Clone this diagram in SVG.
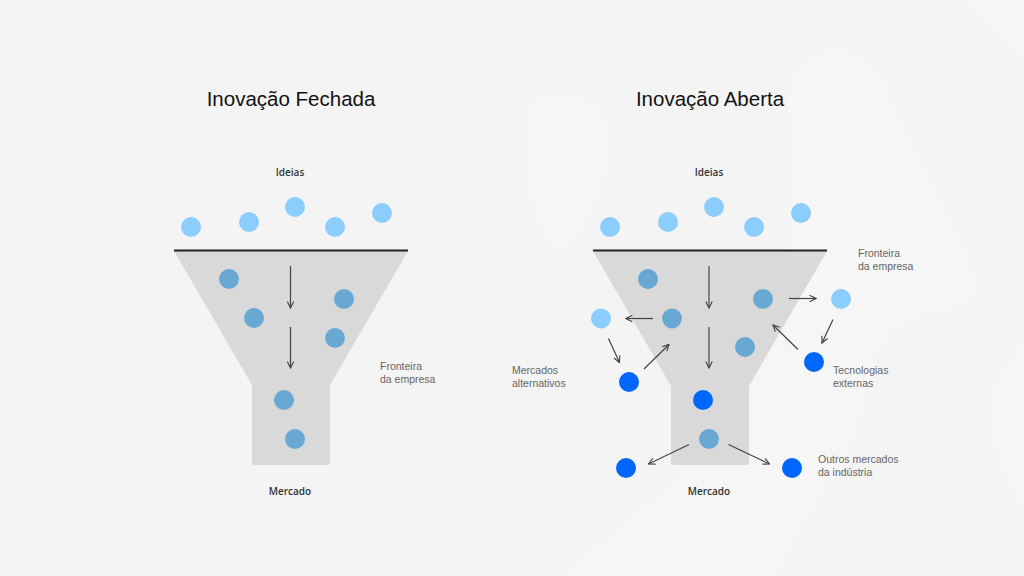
<svg xmlns="http://www.w3.org/2000/svg" width="1024" height="576" viewBox="0 0 1024 576">
<defs>
<style>
.bg{fill:#f4f4f4}
.blob{fill:#f6f6f6}
.funnel{fill:#d9d9d9}
.rim{stroke:#222;stroke-width:2.2}
.idea{fill:#8bcdfc}
.inner{fill:#6aa8d4}
.ext{fill:#0066ff}
.title{font-family:"Liberation Sans",Arial,sans-serif;font-size:20.5px;fill:#111;text-anchor:middle}
.lbl{font-family:"Open Sans","Liberation Sans",Arial,sans-serif;font-size:10px;font-weight:600;fill:#333;text-anchor:middle}
.side{font-family:"Liberation Sans",Arial,sans-serif;font-size:10.5px;fill:#666}
.arr{stroke:#444;stroke-width:1.2;fill:none;marker-end:url(#ah)}
</style>
<marker id="ah" viewBox="0 0 10 10" refX="9" refY="5" markerWidth="8" markerHeight="8" markerUnits="userSpaceOnUse" orient="auto">
<path d="M1,1 L9,5 L1,9" fill="none" stroke="#444" stroke-width="1.4"/>
</marker>
</defs>
<rect class="bg" x="0" y="0" width="1024" height="576"/>
<g id="background">
<path class="blob" d="M960,0 C985,20 1005,45 1024,60 L1024,0 Z"/>
<path class="blob" d="M800,60 C830,40 870,45 885,80 C920,160 960,220 975,270 C985,300 960,310 930,315 C900,320 880,340 875,370 C860,460 800,520 780,576 L560,576 C620,520 700,470 740,400 C780,320 790,250 790,180 C790,120 780,80 800,60 Z"/>
<path class="blob" d="M1024,340 C1000,360 985,390 990,430 C995,470 1010,500 1024,510 Z"/>
<path class="blob" d="M530,100 C560,80 600,90 610,130 C615,180 590,230 560,260 C540,240 525,200 525,160 C525,130 520,110 530,100 Z"/>
</g>

<g id="closed-title"><text class="title" x="291" y="106">Inovação Fechada</text></g>
<g id="open-title"><text class="title" x="710" y="106">Inovação Aberta</text></g>

<g id="closed-funnel">
<path class="funnel" d="M174,251 L408,251 L330,385 L330,463 Q330,465 328,465 L254,465 Q252,465 252,463 L252,385 Z"/>
<line class="rim" x1="174" y1="250.5" x2="408" y2="250.5"/>
</g>
<g id="open-funnel">
<path class="funnel" d="M593,251 L827,251 L749,386 L749,463 Q749,465 747,465 L673,465 Q671,465 671,463 L671,386 Z"/>
<line class="rim" x1="593" y1="250.5" x2="827" y2="250.5"/>
</g>

<g id="closed-labels">
<text class="lbl" x="290" y="176">Ideias</text>
<text class="lbl" x="290" y="495">Mercado</text>
<text class="side" x="380" y="369.5">Fronteira</text>
<text class="side" x="380" y="382.5">da empresa</text>
</g>
<g id="open-labels">
<text class="lbl" x="709" y="176">Ideias</text>
<text class="lbl" x="709" y="495">Mercado</text>
<text class="side" x="858" y="257">Fronteira</text>
<text class="side" x="858" y="270">da empresa</text>
<text class="side" x="512" y="374">Mercados</text>
<text class="side" x="512" y="387">alternativos</text>
<text class="side" x="833" y="374">Tecnologias</text>
<text class="side" x="833" y="387">externas</text>
<text class="side" x="818" y="463">Outros mercados</text>
<text class="side" x="818" y="476">da indústria</text>
</g>

<g id="closed-ideas">
<circle class="idea" cx="191" cy="227" r="10"/>
<circle class="idea" cx="249" cy="222" r="10"/>
<circle class="idea" cx="295" cy="207" r="10"/>
<circle class="idea" cx="335" cy="227" r="10"/>
<circle class="idea" cx="382" cy="213" r="10"/>
</g>
<g id="closed-inner">
<circle class="inner" cx="229" cy="279" r="10"/>
<circle class="inner" cx="344" cy="299" r="10"/>
<circle class="inner" cx="254" cy="318" r="10"/>
<circle class="inner" cx="335" cy="338" r="10"/>
<circle class="inner" cx="284" cy="400" r="10"/>
<circle class="inner" cx="295" cy="439" r="10"/>
</g>

<g id="open-ideas">
<circle class="idea" cx="610" cy="227" r="10"/>
<circle class="idea" cx="668" cy="222" r="10"/>
<circle class="idea" cx="714" cy="207" r="10"/>
<circle class="idea" cx="754" cy="227" r="10"/>
<circle class="idea" cx="801" cy="213" r="10"/>
</g>
<g id="open-inner">
<circle class="inner" cx="648" cy="279" r="10"/>
<circle class="inner" cx="672" cy="318.5" r="10"/>
<circle class="inner" cx="763" cy="299" r="10"/>
<circle class="inner" cx="745" cy="347" r="10"/>
<circle class="ext" cx="703" cy="400" r="10"/>
<circle class="inner" cx="709" cy="439" r="10"/>
</g>
<g id="open-outer">
<circle class="idea" cx="601" cy="318.5" r="10"/>
<circle class="idea" cx="841" cy="299" r="10"/>
<circle class="ext" cx="629" cy="382" r="10"/>
<circle class="ext" cx="814" cy="362" r="10"/>
<circle class="ext" cx="626" cy="468" r="10"/>
<circle class="ext" cx="792" cy="468" r="10"/>
</g>

<g id="connectors">
<line class="arr" x1="290.5" y1="266" x2="290.5" y2="308"/>
<line class="arr" x1="290.5" y1="327" x2="290.5" y2="368"/>
<line class="arr" x1="709" y1="266" x2="709" y2="308"/>
<line class="arr" x1="709" y1="327" x2="709" y2="368"/>
<line class="arr" x1="653" y1="318.5" x2="626" y2="318.5"/>
<line class="arr" x1="789" y1="298.5" x2="816" y2="298.5"/>
<line class="arr" x1="833" y1="319.5" x2="822" y2="343"/>
<line class="arr" x1="798" y1="349.5" x2="773" y2="325"/>
<line class="arr" x1="608.5" y1="338.5" x2="619.5" y2="362.5"/>
<line class="arr" x1="644" y1="369" x2="669" y2="344.5"/>
<line class="arr" x1="689" y1="444.5" x2="648.5" y2="464"/>
<line class="arr" x1="728.5" y1="444.5" x2="769.5" y2="464"/>
</g>
</svg>
